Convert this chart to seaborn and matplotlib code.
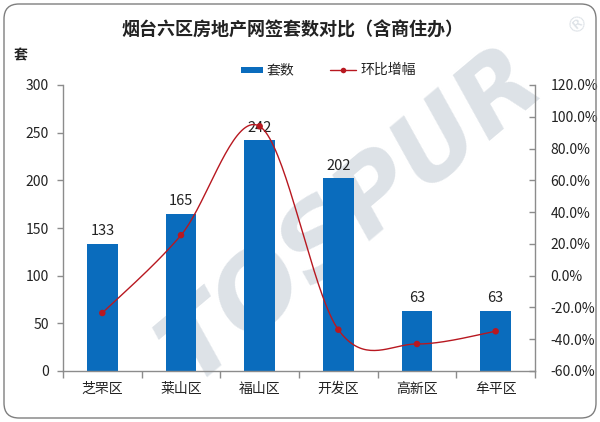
import numpy as np
import pandas as pd
import matplotlib
matplotlib.use("Agg")
import matplotlib.pyplot as plt
import seaborn as sns
from matplotlib.patches import FancyBboxPatch, Rectangle
from matplotlib.lines import Line2D
from matplotlib.ticker import FixedLocator, FuncFormatter

# ---- data ----
districts = ["芝罘区", "莱山区", "福山区", "开发区", "高新区", "牟平区"]
units = [133, 165, 242, 202, 63, 63]
mom_pct = [-23.5, 25.5, 94.0, -34.0, -43.0, -35.0]
left_ticks = [0, 50, 100, 150, 200, 250, 300]
right_ticks = [-60, -40, -20, 0, 20, 40, 60, 80, 100, 120]

title = "烟台六区房地产网签套数对比（含商住办）"
y_unit = "套"
legend_bar = "套数"
legend_line = "环比增幅"

sns.set_theme(style="white")
plt.rcParams["font.family"] = ["Noto Sans CJK SC", "DejaVu Sans"]

BLUE = "#0a6cbd"
RED = "#b81820"
GREY = "#8c8c8c"
TXT = "#222222"

fig = plt.figure(figsize=(6.0, 4.22), dpi=100)
fig.patch.set_facecolor("white")

W, H = 600, 422
L, R, T, B = 63, 535, 85, 371
ax = fig.add_axes([L / W, (H - B) / H, (R - L) / W, (B - T) / H])
ax.set_facecolor("none")

df = pd.DataFrame({"district": districts, "units": units})
sns.barplot(data=df, x="district", y="units", color=BLUE, saturation=1,
            width=0.39, ax=ax, zorder=2)
for p in ax.patches:
    p.set_edgecolor("none")

ax.set_xlim(-0.5, 5.5)
ax.set_ylim(0, 300)
ax.yaxis.set_major_locator(FixedLocator(left_ticks))
ax.set_xlabel("")
ax.set_ylabel("")
ax.xaxis.set_major_locator(FixedLocator(np.arange(-0.5, 6.0, 1.0)))
ax.xaxis.set_major_formatter(FuncFormatter(lambda v, p: ""))
ax.set_xticks(np.arange(len(districts)), labels=districts, minor=True)
ax.tick_params(axis="x", which="major", direction="out", length=5, color=GREY, width=1, bottom=True)
ax.tick_params(axis="x", which="minor", length=0, labelsize=10, labelcolor=TXT, pad=8)
ax.tick_params(axis="y", direction="out", length=4, color=GREY, width=1, left=True,
               labelsize=10, labelcolor=TXT, pad=6)
for s in ["top", "right"]:
    ax.spines[s].set_visible(False)
for s in ["left", "bottom"]:
    ax.spines[s].set_color(GREY)
    ax.spines[s].set_linewidth(1)

for i, v in enumerate(units):
    ax.text(i, v + 6, str(v), ha="center", va="bottom", fontsize=10.5, color=TXT, zorder=5)

# ---- right axis line ----
ax2 = ax.twinx()
ax2.set_ylim(-60, 120)
ax2.yaxis.set_major_locator(FixedLocator(right_ticks))
ax2.yaxis.set_major_formatter(FuncFormatter(lambda v, p: f"{v:.1f}%"))
ax2.tick_params(axis="y", direction="in", length=4, color=GREY, width=1, right=True,
                labelsize=10, labelcolor=TXT, pad=11)
for s in ["top", "left", "bottom"]:
    ax2.spines[s].set_visible(False)
ax2.spines["right"].set_color(GREY)
ax2.spines["right"].set_linewidth(1)
ax2.grid(False)
ax.grid(False)

# smooth curve (Excel-like Bezier through the data points, in screen proportions)
xs = np.arange(len(mom_pct), dtype=float)
sx = (R - L) / 6.0
sy = (B - T) / 180.0
P = np.column_stack([xs * sx, np.array(mom_pct) * sy])
Pext = np.vstack([P[0], P, P[-1]])
curve = []
tt = np.linspace(0, 1, 40)
for i in range(len(P) - 1):
    p0, p1, p2, p3 = Pext[i], Pext[i + 1], Pext[i + 2], Pext[i + 3]
    c1 = p1 + (p2 - p0) / 6.0
    c2 = p2 - (p3 - p1) / 6.0
    seg = ((1 - tt) ** 3)[:, None] * p1 + (3 * (1 - tt) ** 2 * tt)[:, None] * c1 + \
          (3 * (1 - tt) * tt ** 2)[:, None] * c2 + (tt ** 3)[:, None] * p2
    curve.append(seg)
curve = np.vstack(curve)
ax2.plot(curve[:, 0] / sx, curve[:, 1] / sy, color=RED, lw=1.0, zorder=3)
sns.scatterplot(x=xs, y=mom_pct, ax=ax2, color=RED, s=22, edgecolor="none", zorder=4)
ax2.set_xlim(-0.5, 5.5)

# ---- watermark ----
ax.text(352 / W, (H - 216) / H, "TOSPUR", transform=fig.transFigure, rotation=40,
        ha="center", va="center", fontsize=73, fontweight="bold", style="italic",
        color="#dde2e7", zorder=0.5, clip_on=False, family="DejaVu Sans")
ax.text(577 / W, (H - 24) / H, "®", transform=fig.transFigure, rotation=40,
        ha="center", va="center", fontsize=15, color="#dde2e7", zorder=0.5, clip_on=False,
        family="DejaVu Sans")

# ---- title, unit, legend ----
fig.text(292 / W, (H - 30) / H, title, ha="center", va="center", fontsize=13,
         fontweight="bold", color=TXT)
fig.text(21 / W, (H - 55) / H, y_unit, ha="center", va="center", fontsize=10,
         fontweight="bold", color=TXT)

fig.patches.append(Rectangle((241 / W, (H - 73) / H), 22 / W, 6 / H, transform=fig.transFigure,
                             facecolor=BLUE, edgecolor="none"))
fig.text(266 / W, (H - 70) / H, legend_bar, ha="left", va="center", fontsize=10, color=TXT)
fig.lines.append(Line2D([330 / W, 356 / W], [(H - 70) / H] * 2, transform=fig.transFigure,
                        color=RED, lw=1.0))
fig.lines.append(Line2D([343 / W], [(H - 70) / H], transform=fig.transFigure, color=RED,
                        marker="o", markersize=4, markeredgewidth=0))
fig.text(360 / W, (H - 70) / H, legend_line, ha="left", va="center", fontsize=10, color=TXT)

# ---- rounded border ----
fig.patches.append(FancyBboxPatch((4 / W, 4 / H), 592 / W, 414 / H,
                                  boxstyle="round,pad=0,rounding_size=0.025",
                                  transform=fig.transFigure, facecolor="none",
                                  edgecolor="#7f7f7f", lw=1.0, mutation_aspect=W / H))

fig.savefig("out.png", dpi=100, facecolor="white")
